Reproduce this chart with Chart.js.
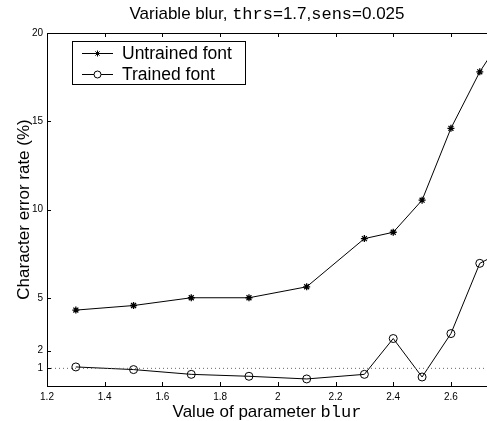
<!DOCTYPE html>
<html>
<head>
<meta charset="utf-8">
<script src="https://cdn.jsdelivr.net/npm/chart.js@4/dist/chart.umd.min.js"></script>
<style>
  html, body { margin: 0; padding: 0; background: #fff; overflow: hidden; }
  #wrap { width: 487px; height: 421px; }
</style>
</head>
<body>
<div id="wrap"><canvas id="grafico"></canvas></div>
<script>
// datos
const blurValues = [1.3, 1.5, 1.7, 1.9, 2.1, 2.3, 2.4, 2.5, 2.6, 2.7, 2.8];
const untrained  = [4.3, 4.56, 5.0, 5.0, 5.62, 8.35, 8.71, 10.53, 14.6, 17.8, 20.3];
const trained    = [1.08, 0.93, 0.66, 0.55, 0.4, 0.66, 2.69, 0.51, 2.97, 6.95, 7.8];
const refLevel   = 1;
const xTicks = [1.2, 1.4, 1.6, 1.8, 2, 2.2, 2.4, 2.6];
const yTicks = [1, 2, 5, 10, 15, 20];
const legendLabels = ['Untrained font', 'Trained font'];

const SANS = "'Liberation Sans', Arial, Helvetica, sans-serif";
const MONO = "'Liberation Mono', 'Courier New', monospace";

const toPts = (xs, ys) => xs.map((x, i) => ({ x: x, y: ys[i] }));

// dibuja texto con trozos sans / mono
function drawMixed(ctx, parts, cx, y, size) {
    let total = 0;
    parts.forEach(p => {
        ctx.font = size + 'px ' + (p.mono ? MONO : SANS);
        p.w = ctx.measureText(p.t).width;
        total += p.w;
    });
    let x = cx - total / 2;
    ctx.textAlign = 'left';
    parts.forEach(p => {
        ctx.font = size + 'px ' + (p.mono ? MONO : SANS);
        ctx.fillText(p.t, x, y);
        x += p.w;
    });
}

const decoPlugin = {
    id: 'deco',
    afterDraw(chart) {
        const ctx = chart.ctx;
        const a = chart.chartArea;
        const sx = chart.scales.x, sy = chart.scales.y;
        ctx.save();
        ctx.strokeStyle = '#000';
        ctx.lineWidth = 1;

        // borde superior
        ctx.beginPath();
        ctx.moveTo(a.left, a.top + 0.5);
        ctx.lineTo(a.right, a.top + 0.5);
        ctx.stroke();

        // marcas hacia dentro
        ctx.beginPath();
        xTicks.forEach(v => {
            const px = Math.round(sx.getPixelForValue(v)) + 0.5;
            ctx.moveTo(px, a.bottom); ctx.lineTo(px, a.bottom - 4);
            ctx.moveTo(px, a.top); ctx.lineTo(px, a.top + 4);
        });
        yTicks.forEach(v => {
            const py = Math.round(sy.getPixelForValue(v)) + 0.5;
            ctx.moveTo(a.left, py); ctx.lineTo(a.left + 4, py);
        });
        ctx.stroke();

        ctx.fillStyle = '#000';
        ctx.textBaseline = 'alphabetic';
        const cx = (a.left + a.right) / 2;

        // titulo
        drawMixed(ctx, [
            { t: 'Variable blur, ' }, { t: 'thrs', mono: true }, { t: '=1.7,' },
            { t: 'sens', mono: true }, { t: '=0.025' }
        ], cx, 19, 17);

        // titulo eje x
        drawMixed(ctx, [{ t: 'Value of parameter ' }, { t: 'blur', mono: true }], cx, 417, 17);

        // titulo eje y
        ctx.save();
        ctx.translate(29, (a.top + a.bottom) / 2);
        ctx.rotate(-Math.PI / 2);
        ctx.font = '17px ' + SANS;
        ctx.textAlign = 'center';
        ctx.fillText('Character error rate (%)', 0, 0);
        ctx.restore();

        // leyenda
        ctx.fillStyle = '#fff';
        ctx.fillRect(72, 41, 173, 43);
        ctx.strokeRect(72.5, 41.5, 173, 43);
        const rows = [53, 74];
        rows.forEach((yy, i) => {
            ctx.beginPath();
            ctx.moveTo(82, yy + 0.5); ctx.lineTo(113, yy + 0.5);
            ctx.stroke();
            if (i === 0) {
                Chart.helpers.drawPoint(ctx, { pointStyle: 'star', radius: 3, rotation: 0, borderWidth: 1 }, 97.5, yy + 0.5);
            } else {
                ctx.beginPath();
                ctx.arc(97.5, yy + 0.5, 3.5, 0, Math.PI * 2);
                ctx.fillStyle = '#fff';
                ctx.fill();
                ctx.stroke();
            }
            ctx.fillStyle = '#000';
            ctx.font = '17.5px ' + SANS;
            ctx.textAlign = 'left';
            ctx.fillText(legendLabels[i], 122, yy + 6);
        });
        ctx.restore();
    }
};

new Chart(document.getElementById('grafico'), {
    type: 'line',
    data: {
        datasets: [
            {
                label: 'ref', data: [{ x: 1.2, y: refLevel }, { x: 2.8, y: refLevel }],
                borderColor: '#666', borderWidth: 1, borderDash: [1, 3], pointRadius: 0, clip: 0
            },
            {
                label: legendLabels[0], data: toPts(blurValues, untrained),
                borderColor: '#000', borderWidth: 1, pointStyle: 'star', pointRadius: 3.5,
                pointBorderColor: '#000', pointBorderWidth: 1.3, clip: 0
            },
            {
                label: legendLabels[1], data: toPts(blurValues, trained),
                borderColor: '#000', borderWidth: 1, pointStyle: 'circle', pointRadius: 4,
                pointBorderColor: '#000', pointBackgroundColor: 'rgba(0,0,0,0)', pointBorderWidth: 1, clip: 0
            }
        ]
    },
    options: {
        responsive: true,
        maintainAspectRatio: false,
        animation: false,
        layout: { autoPadding: false, padding: { top: 33, right: 0, left: 0, bottom: 0 } },
        plugins: { legend: { display: false }, tooltip: { enabled: false } },
        scales: {
            x: {
                type: 'linear', min: 1.2, max: 2.725,
                afterBuildTicks: s => { s.ticks = xTicks.map(v => ({ value: v })); },
                afterFit: s => { s.height = 35; s.paddingLeft = 0; s.paddingRight = 0; },
                ticks: { callback: v => String(v), color: '#000', font: { family: SANS, size: 10 }, padding: 5, maxRotation: 0, autoSkip: false },
                grid: { drawOnChartArea: false, drawTicks: false },
                border: { color: '#000', width: 1 }
            },
            y: {
                type: 'linear', min: 0, max: 20,
                afterBuildTicks: s => { s.ticks = yTicks.map(v => ({ value: v })); },
                afterFit: s => { s.width = 47; s.paddingTop = 0; s.paddingBottom = 0; },
                ticks: { color: '#000', font: { family: SANS, size: 10 }, padding: 4, autoSkip: false },
                grid: { drawOnChartArea: false, drawTicks: false },
                border: { color: '#000', width: 1 }
            }
        }
    },
    plugins: [decoPlugin]
});
</script>
</body>
</html>
